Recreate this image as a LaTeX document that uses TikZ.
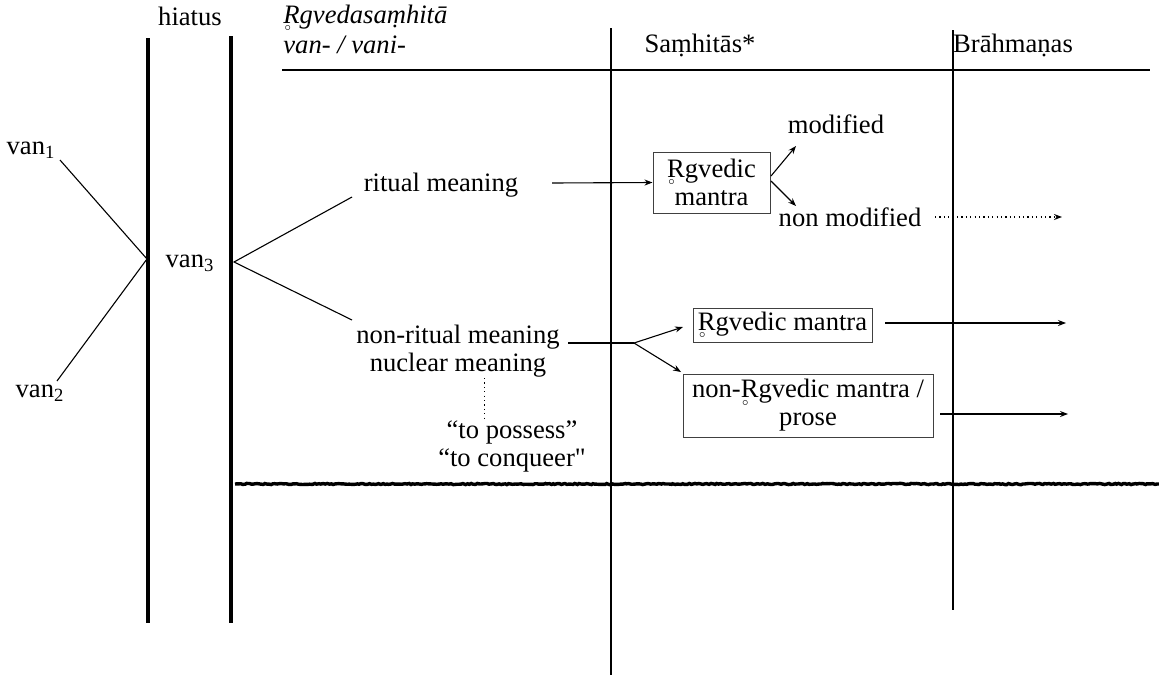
\documentclass[tikz,border=0pt]{standalone}
\usepackage{fontspec}
\setmainfont{Liberation Serif}[Ligatures=TeXOff]
\usetikzlibrary{arrows.meta,decorations.pathmorphing}
\newcommand\Rring{\makebox[0pt][l]{\hspace{0.03em}\raisebox{-0.6ex}{\fontsize{5}{5}\selectfont$\circ$}}R}
\begin{document}
\begin{tikzpicture}[x=0.5pt,y=-0.5pt,
  lbl/.style={inner sep=0pt,font=\fontsize{13.3}{14}\selectfont,align=center},
  boxed/.style={lbl,draw=black!75,line width=0.5pt},
  thickv/.style={line width=2pt},
  thin/.style={line width=0.55pt},
  arr/.style={thin,-{Stealth[length=4pt,width=3pt]}},
  fdots/.style={dash pattern=on 0.6pt off 1.6pt},
  rough/.style={decorate,decoration={random steps,segment length=1pt,amplitude=0.3pt}}]
\useasboundingbox (0,0) rectangle (1159,675);
% vertical structure lines
\draw[thickv] (148,38) coordinate (l1t) -- (148,623) coordinate (l1b);
\draw[thickv] (231,36) coordinate (l2t) -- (231,623) coordinate (l2b);
\draw[line width=0.8pt] (611,28) coordinate (s1) -- (611,675) coordinate (s2);
\draw[line width=1pt] (953,30) coordinate (b1) -- (953,610) coordinate (b2);
\draw[line width=0.7pt] (282,70) coordinate (h1) -- (1150,70) coordinate (h2);
\draw[line width=1.7pt,rough] (235,484) coordinate (g1) -- (1159,484) coordinate (g2);
% headings
\node[lbl] (hiatus) at (190,16) {hiatus};
\node[lbl,anchor=west,font=\fontsize{13.3}{14}\selectfont\itshape] (rv) at (283,18) {\Rring gvedasaṃhitā};
\node[lbl,anchor=west,font=\fontsize{13.3}{14}\selectfont\itshape] (vv) at (283,45) {van- / vani-};
\node[lbl] (samh) at (700,45) {Saṃhitās*};
\node[lbl] (brah) at (1013,45) {Brāhmaṇas};
% left part
\node[lbl] (van1) at (31,150) {van\textsubscript{1}};
\node[lbl] (van2) at (40,393) {van\textsubscript{2}};
\node[lbl] (van3) at (190,263) {van\textsubscript{3}};
\coordinate (j1) at (147,259);
\coordinate (j2) at (234,262);
\coordinate (v1e) at (60,160);
\coordinate (v2e) at (57,381);
\draw[thin] (v1e) -- (j1);
\draw[thin] (v2e) -- (j1);
% meanings
\node[lbl] (rit) at (441,185) {ritual meaning};
\node[lbl] (nonrit) at (458,351) {non-ritual meaning\\nuclear meaning};
\coordinate (r1) at (352,197);
\coordinate (r2) at (352,320);
\draw[thin] (r1) -- (j2) -- (r2);
% upper branch
\node[boxed,minimum width=58.5pt,minimum height=30.5pt] (bx1) at (711.5,182.5) {\Rring gvedic\\mantra};
\coordinate (ra) at (552,183);
\draw[arr] (ra) -- (bx1.west);
\node[lbl] (mod) at (836,124) {modified};
\node[lbl] (nmod) at (850,217) {non modified};
\coordinate (u1) at (771,176);
\coordinate (u2) at (771,181);
\coordinate (u1e) at (796,146);
\coordinate (u2e) at (796,206);
\draw[arr] (u1) -- (u1e);
\draw[arr] (u2) -- (u2e);
\coordinate (d1) at (935,217);
\coordinate (d2) at (1062,217);
\draw[arr,fdots,line width=0.7pt] (d1) -- (d2);
% lower branch
\node[boxed,minimum width=89.5pt,minimum height=17pt] (bx2) at (782.5,325) {\Rring gvedic mantra};
\node[boxed,minimum width=125pt,minimum height=31.5pt] (bx3) at (808,405.5) {non-\Rring gvedic mantra /\\prose};
\coordinate (n1) at (568,343);
\coordinate (n2) at (634,343);
\coordinate (n2a) at (683,327);
\coordinate (n2b) at (681,372);
\draw[thin] (n1) -- (n2);
\draw[arr] (n2) -- (n2a);
\draw[arr] (n2) -- (n2b);
\coordinate (e1) at (885,323);
\coordinate (e1e) at (1066,323);
\draw[arr] (e1) -- (e1e);
\coordinate (e2) at (940,414);
\coordinate (e2e) at (1068,414);
\draw[arr] (e2) -- (e2e);
% nuclear meaning gloss
\node[lbl] (poss) at (512,446) {“to possess”\\“to conqueer"};
\coordinate (dt1) at (484,378);
\coordinate (dt2) at (484,420);
\draw[fdots,line width=0.5pt] (dt1) -- (dt2);
\end{tikzpicture}
\end{document}
